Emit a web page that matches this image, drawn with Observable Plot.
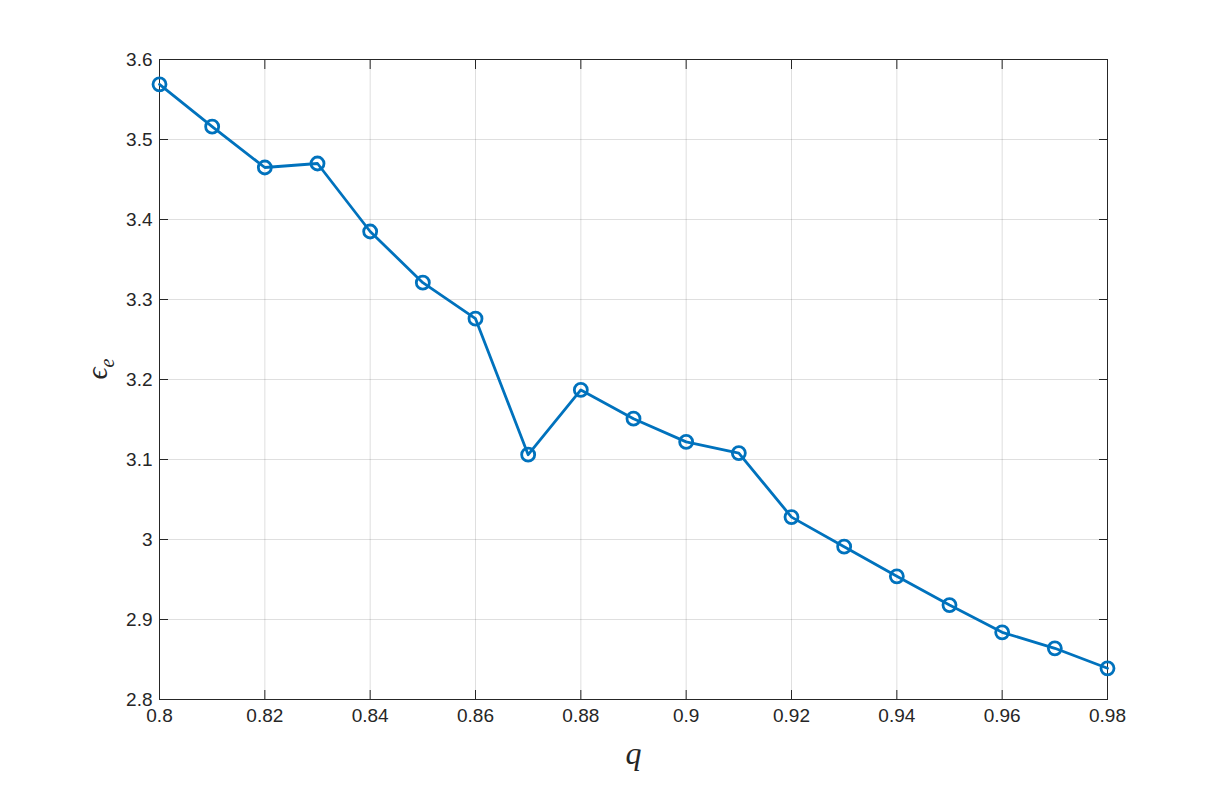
<!DOCTYPE html>
<html>
<head>
<meta charset="utf-8">
<script src="https://cdn.jsdelivr.net/npm/d3@7"></script>
<script src="https://cdn.jsdelivr.net/npm/@observablehq/plot@0.6"></script>
<style>
  html, body { margin: 0; padding: 0; background: #ffffff; }
  #chart { width: 1224px; height: 786px; }
</style>
</head>
<body>
<div id="chart"></div>
<script>
const qValues = [0.80, 0.81, 0.82, 0.83, 0.84, 0.85, 0.86, 0.87, 0.88, 0.89, 0.90, 0.91, 0.92, 0.93, 0.94, 0.95, 0.96, 0.97, 0.98];
const epsValues = [3.569, 3.516, 3.465, 3.470, 3.385, 3.321, 3.276, 3.106, 3.187, 3.151, 3.122, 3.108, 3.028, 2.991, 2.954, 2.918, 2.884, 2.864, 2.839];
const xTicks = [0.80, 0.82, 0.84, 0.86, 0.88, 0.90, 0.92, 0.94, 0.96, 0.98];
const yTicks = [2.8, 2.9, 3.0, 3.1, 3.2, 3.3, 3.4, 3.5, 3.6];
const xLabel = "q";
const yLabel = "ϵe";

const data = qValues.map((q, i) => ({q, e: epsValues[i]}));
const fmt = d => String(+d.toFixed(2));
const ink = "#262626";
const tickFont = "'Liberation Sans', Arial, Helvetica, sans-serif";

const chart = Plot.plot({
  width: 1224,
  height: 786,
  marginLeft: 159,
  marginRight: 117,
  marginTop: 59,
  marginBottom: 87,
  style: {fontFamily: tickFont, fontSize: "19px", color: ink, background: "#ffffff"},
  x: {domain: [0.8, 0.98]},
  y: {domain: [2.8, 3.6]},
  marks: [
    Plot.gridX(xTicks, {stroke: ink, strokeOpacity: 0.15, strokeWidth: 1}),
    Plot.gridY(yTicks, {stroke: ink, strokeOpacity: 0.15, strokeWidth: 1}),
    // inward ticks on all four sides
    Plot.axisX(xTicks, {anchor: "bottom", tickSize: -9, tickFormat: () => "", label: null, stroke: ink}),
    Plot.axisX(xTicks, {anchor: "top", tickSize: -9, tickFormat: () => "", label: null, stroke: ink}),
    Plot.axisY(yTicks, {anchor: "left", tickSize: -9, tickFormat: () => "", label: null, stroke: ink}),
    Plot.axisY(yTicks, {anchor: "right", tickSize: -9, tickFormat: () => "", label: null, stroke: ink}),
    // tick labels
    Plot.axisX(xTicks, {anchor: "bottom", tickSize: 0, tickPadding: 9, tickFormat: fmt, label: null, fill: ink, fontSize: 19}),
    Plot.axisY(yTicks, {anchor: "left", tickSize: 0, tickPadding: 7, tickFormat: fmt, label: null, fill: ink, fontSize: 19}),
    Plot.frame({stroke: ink, strokeWidth: 1}),
    Plot.line(data, {x: "q", y: "e", stroke: "#0072BD", strokeWidth: 2.8}),
    Plot.dot(data, {x: "q", y: "e", r: 6.5, stroke: "#0072BD", strokeWidth: 2.8, fill: "none"}),
    Plot.text([xLabel], {text: d => d, frameAnchor: "bottom", dy: 64, fontFamily: "'Liberation Serif', 'DejaVu Serif', serif", fontStyle: "italic", fontSize: 32, fill: ink}),
    Plot.text([yLabel], {text: d => d, frameAnchor: "left", dx: -62, rotate: -90, fontFamily: "'Liberation Serif', 'DejaVu Serif', serif", fontStyle: "italic", fontSize: 30, fill: ink, className: "ylab"})
  ]
});
document.getElementById("chart").appendChild(chart);

// render the subscript "e" of the y label as a real subscript
d3.select(chart).selectAll(".ylab text").each(function() {
  const t = d3.select(this);
  const s = t.text();
  t.text(null);
  t.append("tspan").text(s.slice(0, 1));
  t.append("tspan").attr("font-size", 20).attr("dy", "0.35em").text(s.slice(1));
});
</script>
</body>
</html>
